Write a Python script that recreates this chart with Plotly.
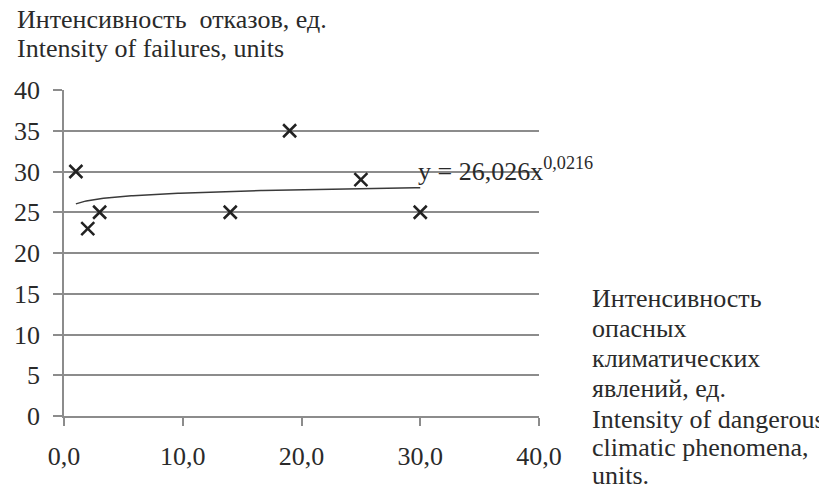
import numpy as np
import plotly.graph_objects as go

# Data
x_vals = [1, 2, 3, 14, 19, 25, 30]
y_vals = [30, 23, 25, 25, 35, 29, 25]
coef_a = 26.026
coef_b = 0.0216
x_ticks = [0, 10, 20, 30, 40]
y_ticks = [0, 5, 10, 15, 20, 25, 30, 35, 40]
y_title_lines = ["Интенсивность  отказов, ед.", "Intensity of failures, units"]
x_title_lines = ["Интенсивность", "опасных", "климатических", "явлений, ед.",
                 "Intensity of dangerous", "climatic phenomena,", "units."]

FONT = "Times New Roman"
FS = 26
TXT = "#2a2a2a"
GRID = "#8c8c8c"

OFF = 8  # page body margin
W, H = 827 - OFF, 490 - OFF
L, R, T, B = 64 - OFF, 539 - OFF, 90 - OFF, 416 - OFF

fig = go.Figure()

trend_x = np.linspace(min(x_vals), max(x_vals), 200)
trend_y = coef_a * trend_x ** coef_b
fig.add_trace(go.Scatter(x=trend_x, y=trend_y, mode="lines",
                         line=dict(color="#3a3a3a", width=1.5), hoverinfo="skip"))
fig.add_trace(go.Scatter(x=x_vals, y=y_vals, mode="markers",
                         marker=dict(symbol="x-thin", size=13,
                                     line=dict(color="#222222", width=2.5))))

def px2paper_x(px):
    return (px - OFF - L) / (R - L)

def px2paper_y(py):
    return (B - (py - OFF)) / (B - T)

ann = []
for line, py in zip(y_title_lines, [20, 48]):
    ann.append(dict(text=line, x=px2paper_x(15), y=px2paper_y(py), xref="paper", yref="paper",
                    xanchor="left", yanchor="middle", showarrow=False,
                    font=dict(family=FONT, size=FS, color=TXT)))
for line, py in zip(x_title_lines, [298, 328, 358, 388, 419, 447, 475]):
    ann.append(dict(text=line, x=px2paper_x(590), y=px2paper_y(py), xref="paper", yref="paper",
                    xanchor="left", yanchor="middle", showarrow=False,
                    font=dict(family=FONT, size=FS, color=TXT)))
ann.append(dict(text="y = 26,026x<sup>0,0216</sup>", x=29.6, y=30.3, xref="x", yref="y",
                xanchor="left", yanchor="middle", showarrow=False,
                font=dict(family=FONT, size=FS, color=TXT)))

fig.update_layout(
    width=W, height=H,
    margin=dict(l=L, r=W - R, t=T, b=H - B, pad=0, autoexpand=False),
    paper_bgcolor="white", plot_bgcolor="white",
    showlegend=False,
    separators=", ",
    annotations=ann,
    font=dict(family=FONT, size=FS, color=TXT),
)
fig.update_xaxes(range=[0, 40], tickvals=x_ticks, tickformat=".1f", automargin=False,
                 showgrid=False, zeroline=False, showline=True, linecolor=GRID, linewidth=1.5,
                 ticks="outside", ticklen=8, tickcolor=GRID, tickwidth=1.5,
                 ticklabelstandoff=8,
                 tickfont=dict(family=FONT, size=FS, color=TXT))
fig.update_yaxes(range=[0, 40], tickvals=y_ticks, automargin=False,
                 showgrid=True, gridcolor=GRID, gridwidth=1.5, zeroline=False,
                 showline=True, linecolor=GRID, linewidth=1.5,
                 ticks="outside", ticklen=9, tickcolor=GRID, tickwidth=1.5,
                 ticklabelstandoff=8,
                 tickfont=dict(family=FONT, size=FS, color=TXT))

fig.write_html("out.html")
